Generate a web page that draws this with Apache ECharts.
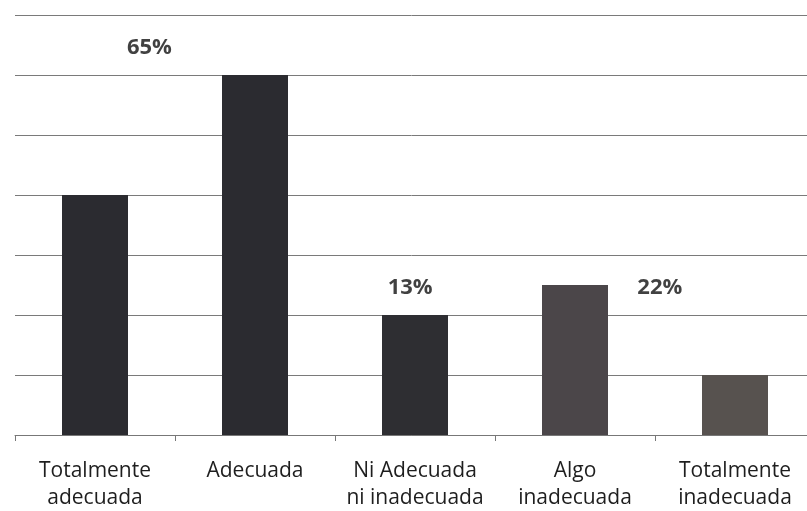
<!DOCTYPE html>
<html><head><meta charset="utf-8">
<script src="https://cdn.jsdelivr.net/npm/echarts@6/dist/echarts.min.js"></script>
<style>html,body{margin:0;padding:0;background:#fff}#c{width:807px;height:511px}</style>
</head><body><div id="c"></div>
<script>
const categories = ['Totalmente\nadecuada', 'Adecuada', 'Ni Adecuada\nni inadecuada', 'Algo\ninadecuada', 'Totalmente\ninadecuada'];
const values = [4, 6, 2, 2.5, 1];
const barColors = ['#2b2b30', '#2b2b30', '#2e2e32', '#4b4649', '#57524f'];
const groupLabels = ['65%', '13%', '22%'];
const groupLabelX = [0.84, 2.47, 4.03];
const groupLabelY = [6.45, 2.45, 2.45];

const chart = echarts.init(document.getElementById('c'));
chart.setOption({
  animation: false,
  grid: { left: 15, top: 15, width: 800, height: 420, containLabel: false, outerBoundsMode: 'none' },
  xAxis: [{
    type: 'category', data: categories,
    axisLine: { lineStyle: { color: '#777', width: 1 } },
    axisTick: { show: true, length: 6, lineStyle: { color: '#777' } },
    axisLabel: { color: '#1e1e1e', fontFamily: 'Open Sans', fontSize: 21, lineHeight: 27, margin: 23, interval: 0 }
  }, {
    type: 'value', min: 0, max: 5, show: false
  }],
  yAxis: {
    type: 'value', min: 0, max: 7, interval: 1,
    axisLine: { show: false }, axisTick: { show: false }, axisLabel: { show: false },
    splitLine: { lineStyle: { color: '#7a7a7a', width: 1 } }
  },
  series: [{
    type: 'bar', xAxisIndex: 0, barWidth: 66,
    data: values.map((v, i) => ({ value: v, itemStyle: { color: barColors[i] } }))
  }, {
    type: 'scatter', xAxisIndex: 1, symbolSize: 0,
    data: groupLabels.map((t, i) => [groupLabelX[i], groupLabelY[i], t]),
    label: { show: true, position: 'inside', formatter: p => p.data[2], color: '#111', fontFamily: 'Open Sans', fontWeight: 'bold', fontSize: 22 }
  }]
});
</script></body></html>
